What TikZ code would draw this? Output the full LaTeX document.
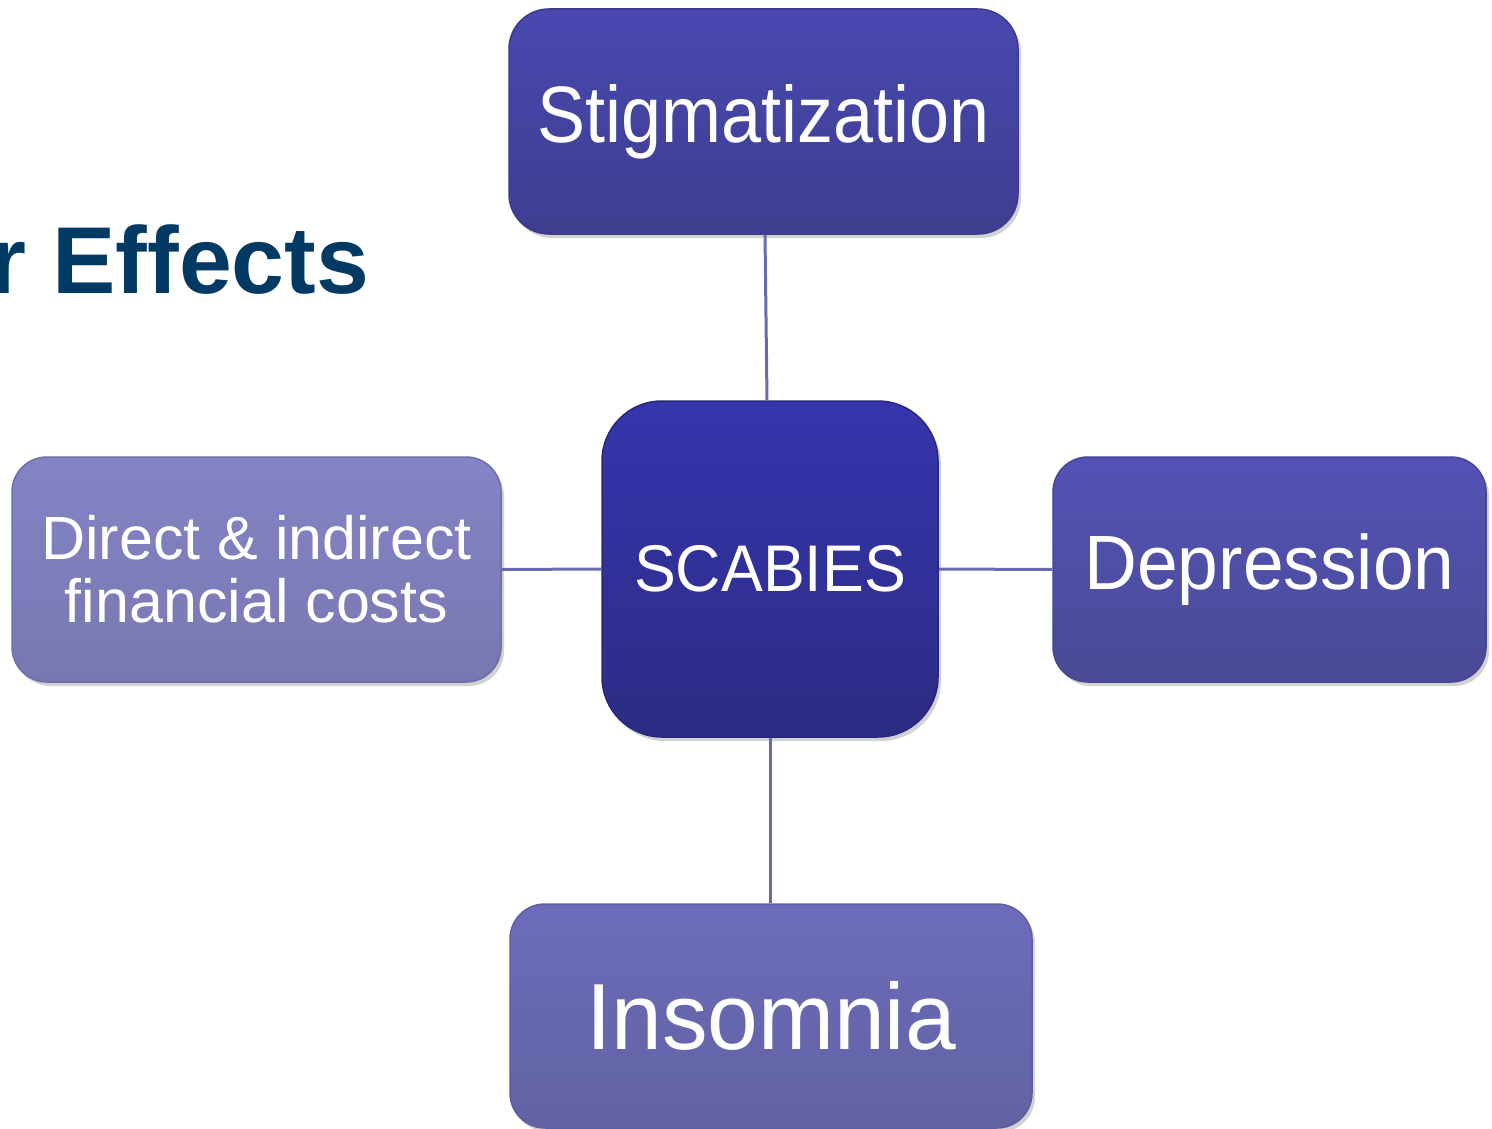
\documentclass[tikz,border=0pt]{standalone}
\usepackage{fontspec}
\setmainfont{Liberation Sans}
\usetikzlibrary{shadows,shadings}
\definecolor{titleblue}{HTML}{033A63}
\definecolor{linkcol}{HTML}{6A6AAE}
\definecolor{stigD}{HTML}{3B3B8C}\definecolor{stigT}{HTML}{4848B0}\definecolor{stigB}{HTML}{3E3E90}
\definecolor{scabD}{HTML}{28287A}\definecolor{scabT}{HTML}{3535AE}\definecolor{scabB}{HTML}{2C2C84}
\definecolor{depD}{HTML}{464690}\definecolor{depT}{HTML}{5353B6}\definecolor{depB}{HTML}{4A4A96}
\definecolor{costD}{HTML}{6E6EA8}\definecolor{costT}{HTML}{8484C6}\definecolor{costB}{HTML}{7878B0}
\definecolor{insD}{HTML}{5E5E9E}\definecolor{insT}{HTML}{6C6CBC}\definecolor{insB}{HTML}{6262A2}
\newcommand{\boxtxt}[3]{\scalebox{#1}[1]{\fontsize{#2}{#2}\selectfont #3}}
\tikzset{
  card/.style={rectangle, rounded corners=#1, inner sep=0pt, text=white, align=center,
    line width=1.5pt, drop shadow={opacity=0.35, shadow xshift=3pt, shadow yshift=-4pt}},
  link/.style={draw=linkcol, line width=3pt}
}
\begin{document}
\begin{tikzpicture}[x=1pt,y=-1pt]
\useasboundingbox (0,0) rectangle (1492,1129);
\fill[white] (0,0) rectangle (1492,1129);
% title fragment
\node[anchor=base west, inner sep=0pt, text=titleblue, font=\fontsize{95}{95}\selectfont\bfseries] (title) at (-11,293) {r Effects};
% boxes
\node[card=40pt, minimum width=509pt, minimum height=225pt, draw=stigD, top color=stigT, bottom color=stigB] (stig) at (763.5,121.5) {\boxtxt{0.9}{80}{Stigmatization}};
\node[card=60pt, minimum width=336pt, minimum height=336pt, draw=scabD, top color=scabT, bottom color=scabB] (scab) at (770,569) {\boxtxt{0.95}{66}{SCABIES}};
\node[card=35pt, minimum width=433pt, minimum height=225pt, draw=depD, top color=depT, bottom color=depB] (dep) at (1269.5,569.5) {\boxtxt{0.95}{77}{Depression}};
\node[card=35pt, minimum width=489pt, minimum height=225pt, draw=costD, top color=costT, bottom color=costB, font=\fontsize{61}{63}\selectfont] (cost) at (256.5,569.5) {Direct \& indirect\\ financial costs};
\node[card=35pt, minimum width=522pt, minimum height=224pt, draw=insD, top color=insT, bottom color=insB] (ins) at (771,1016) {\boxtxt{0.97}{94}{Insomnia}};
% connectors
\draw[link] ([xshift=1.5pt]stig.south) -- ([xshift=-3pt]scab.north);
\draw[link] (cost.east) -- (scab.west);
\draw[link] (scab.east) -- (dep.west);
\draw[link] (scab.south) -- ([xshift=-1pt]ins.north);
\end{tikzpicture}
\end{document}
